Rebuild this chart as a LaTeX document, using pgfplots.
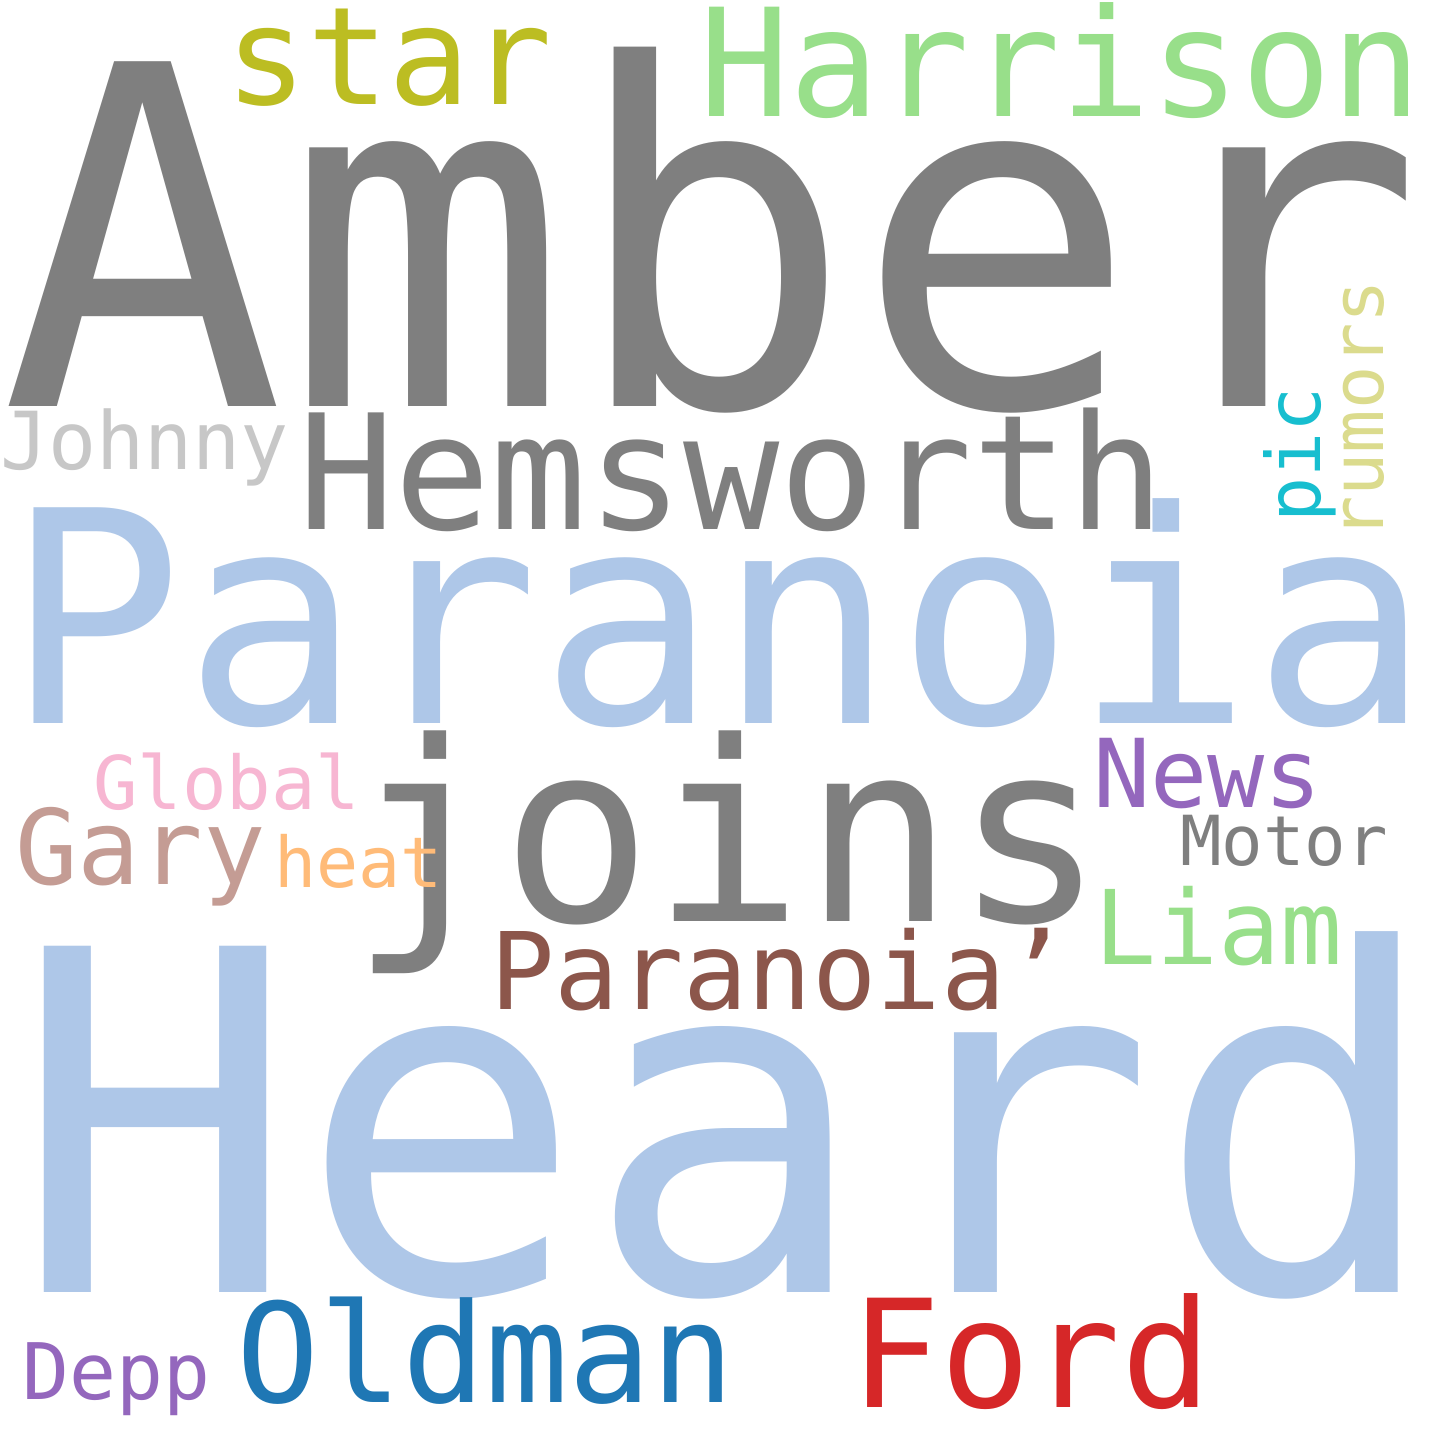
\documentclass[border=0pt]{standalone}
\usepackage{fontspec}
\setmainfont{DejaVu Sans Mono}
\usepackage{pgfplots}
\pgfplotsset{compat=1.18}
\definecolor{cgray}{HTML}{7F7F7F}
\definecolor{clblue}{HTML}{AEC7E8}
\definecolor{cgreen}{HTML}{98DF8A}
\definecolor{colive}{HTML}{BCBD22}
\definecolor{clgray}{HTML}{C7C7C7}
\definecolor{cteal}{HTML}{17BECF}
\definecolor{clolive}{HTML}{DBDB8D}
\definecolor{cpurple}{HTML}{9467BD}
\definecolor{cpink}{HTML}{F7B6D2}
\definecolor{cbrownl}{HTML}{C49C94}
\definecolor{corange}{HTML}{FFBB78}
\definecolor{cbrown}{HTML}{8C564B}
\definecolor{cblue}{HTML}{1F77B4}
\definecolor{cred}{HTML}{D62728}
\newcommand{\w}[5]{\node[anchor=base west,inner sep=0pt,text=#4,#5] at (axis cs:#1,#2) {#3};}
\newcommand{\fs}[1]{\fontsize{#1pt}{#1pt}\selectfont}
\begin{document}
\begin{tikzpicture}
\useasboundingbox (0,0) rectangle (1440pt,1440pt);
\fill[white] (0,0) rectangle (1440pt,1440pt);
\begin{axis}[at={(0,0)},anchor=south west,scale only axis,width=1440pt,height=1440pt,
 xmin=0,xmax=1440,ymin=0,ymax=1440,hide axis]
\addplot[draw=none] coordinates {(0,0) (1440,1440)};
\w{0}{1033}{\fs{473}Amber}{cgray}{}
\w{12}{147}{\fs{475}Heard}{clblue}{}
\w{5}{716}{\fs{296}Paranoia}{clblue}{}
\w{350}{518}{\fs{251}joins}{cgray}{}
\w{298}{910}{\fs{160}Hemsworth}{cgray}{}
\w{699}{1323}{\fs{150}Harrison}{cgreen}{}
\w{225}{1335}{\fs{136}star}{colive}{}
\w{0}{970}{\fs{80}Johnny}{clgray}{}
\w{1320}{917}{\fs{75}pic}{cteal}{rotate=90}
\w{1383}{900}{\fs{72}rumors}{clolive}{rotate=90}
\w{1093}{632}{\fs{95}News}{cpurple}{}
\w{1180}{574}{\fs{69}Motor}{cgray}{}
\w{1094}{475}{\fs{103}Liam}{cgreen}{}
\w{93}{630}{\fs{74}Global}{cpink}{}
\w{15}{555}{\fs{104}Gary}{cbrownl}{}
\w{274}{552}{\fs{70}heat}{corange}{}
\w{490}{430}{\fs{107}Paranoia\char"27}{cbrown}{}
\w{22}{40}{\fs{78}Depp}{cpurple}{}
\w{236}{37}{\fs{138}Oldman}{cblue}{}
\w{850}{32}{\fs{150}Ford}{cred}{}
\end{axis}
\end{tikzpicture}
\end{document}
